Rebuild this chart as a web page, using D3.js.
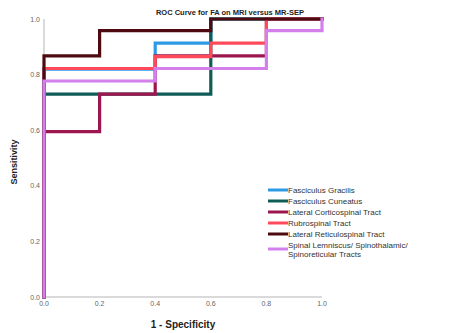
<!DOCTYPE html>
<html>
<head>
<meta charset="utf-8">
<script src="https://cdn.jsdelivr.net/npm/d3@7"></script>
<style>
  body { margin: 0; background: #fff; }
  text { font-family: "Liberation Sans", Arial, sans-serif; }
</style>
</head>
<body>
<svg width="469" height="333"></svg>
<script>
// ROC step points, one pair of lists per tract
var names = ['Fasciculus Gracilis', 'Fasciculus Cuneatus', 'Lateral Corticospinal Tract',
             'Rubrospinal Tract', 'Lateral Reticulospinal Tract',
             'Spinal Lemniscus/ Spinothalamic/|Spinoreticular Tracts'];
var colors = ['#2e9ae6', '#0f5c57', '#9c1650', '#ff4a5c', '#4d0a10', '#d37fec'];

var fprGracilis = [0, 0, 0.4, 0.4, 0.6, 0.6, 1];
var tprGracilis = [0, 0.82, 0.82, 0.913, 0.913, 1, 1];
var fprCuneatus = [0, 0, 0.6, 0.6, 1];
var tprCuneatus = [0, 0.73, 0.73, 1, 1];
var fprCortico = [0, 0, 0.2, 0.2, 0.4, 0.4, 0.8, 0.8, 1];
var tprCortico = [0, 0.595, 0.595, 0.73, 0.73, 0.867, 0.867, 1, 1];
var fprRubro = [0, 0, 0.4, 0.4, 0.6, 0.6, 0.8, 0.8, 1];
var tprRubro = [0, 0.822, 0.822, 0.865, 0.865, 0.913, 0.913, 1, 1];
var fprReticulo = [0, 0, 0.2, 0.2, 0.6, 0.6, 1];
var tprReticulo = [0, 0.867, 0.867, 0.958, 0.958, 1, 1];
var fprLemniscus = [0, 0, 0.4, 0.4, 0.8, 0.8, 1, 1];
var tprLemniscus = [0, 0.777, 0.777, 0.822, 0.822, 0.958, 0.958, 1];

var ticks = [0, 0.2, 0.4, 0.6, 0.8, 1.0];

var series = [
  [fprGracilis, tprGracilis], [fprCuneatus, tprCuneatus], [fprCortico, tprCortico],
  [fprRubro, tprRubro], [fprReticulo, tprReticulo], [fprLemniscus, tprLemniscus]
];

var svg = d3.select('svg');
var x = d3.scaleLinear().domain([0, 1]).range([44, 322]);
var y = d3.scaleLinear().domain([0, 1]).range([297, 19]);

// axes
svg.append('line').attr('x1', x(0)).attr('x2', x(0)).attr('y1', y(0)).attr('y2', y(1))
  .attr('stroke', '#b5b5b5').attr('stroke-width', 1);
svg.append('line').attr('x1', x(0)).attr('x2', x(1)).attr('y1', y(0)).attr('y2', y(0))
  .attr('stroke', '#b5b5b5').attr('stroke-width', 1);

svg.selectAll('text.ytick').data(ticks).enter().append('text')
  .attr('class', 'ytick')
  .attr('x', 40).attr('y', function(d){ return y(d) + 2.5; })
  .attr('text-anchor', 'end').attr('font-size', 7).attr('fill', '#666')
  .text(function(d){ return d.toFixed(1); });

svg.selectAll('text.xtick').data(ticks).enter().append('text')
  .attr('class', 'xtick')
  .attr('x', function(d){ return x(d); }).attr('y', 306)
  .attr('text-anchor', 'middle').attr('font-size', 7).attr('fill', '#666')
  .text(function(d){ return d.toFixed(1); });

// curves
var line = d3.line().x(function(d){ return x(d[0]); }).y(function(d){ return y(d[1]); });
series.forEach(function(s, i) {
  var pts = d3.zip(s[0], s[1]);
  svg.append('path').datum(pts)
    .attr('d', line)
    .attr('fill', 'none')
    .attr('stroke', colors[i])
    .attr('stroke-width', 3.2)
    .attr('stroke-linejoin', 'miter')
    .attr('stroke-linecap', 'square');
});

// titles
svg.append('text').attr('x', 230).attr('y', 15).attr('text-anchor', 'middle')
  .attr('font-size', 7.5).attr('font-weight', 'bold').attr('fill', '#222')
  .text('ROC Curve for FA on MRI versus MR-SEP');
svg.append('text').attr('transform', 'translate(17,162) rotate(-90)')
  .attr('text-anchor', 'middle').attr('font-size', 9).attr('font-weight', 'bold').attr('fill', '#222')
  .text('Sensitivity');
svg.append('text').attr('x', 183).attr('y', 328).attr('text-anchor', 'middle')
  .attr('font-size', 10).attr('font-weight', 'bold').attr('fill', '#222')
  .text('1 - Specificity');

// legend
var rowY = [190, 201, 212, 223, 234, 249];
var legend = svg.append('g');
names.forEach(function(n, i) {
  legend.append('line').attr('x1', 268).attr('x2', 288)
    .attr('y1', rowY[i]).attr('y2', rowY[i])
    .attr('stroke', colors[i]).attr('stroke-width', 3);
  var parts = n.split('|');
  var t = legend.append('text').attr('x', 288).attr('font-size', 8).attr('fill', '#333');
  parts.forEach(function(p, k) {
    t.append('tspan').attr('x', 288)
      .attr('y', rowY[i] + 3 + (k - (parts.length - 1) / 2) * 9)
      .text(p);
  });
});
</script>
</body>
</html>
